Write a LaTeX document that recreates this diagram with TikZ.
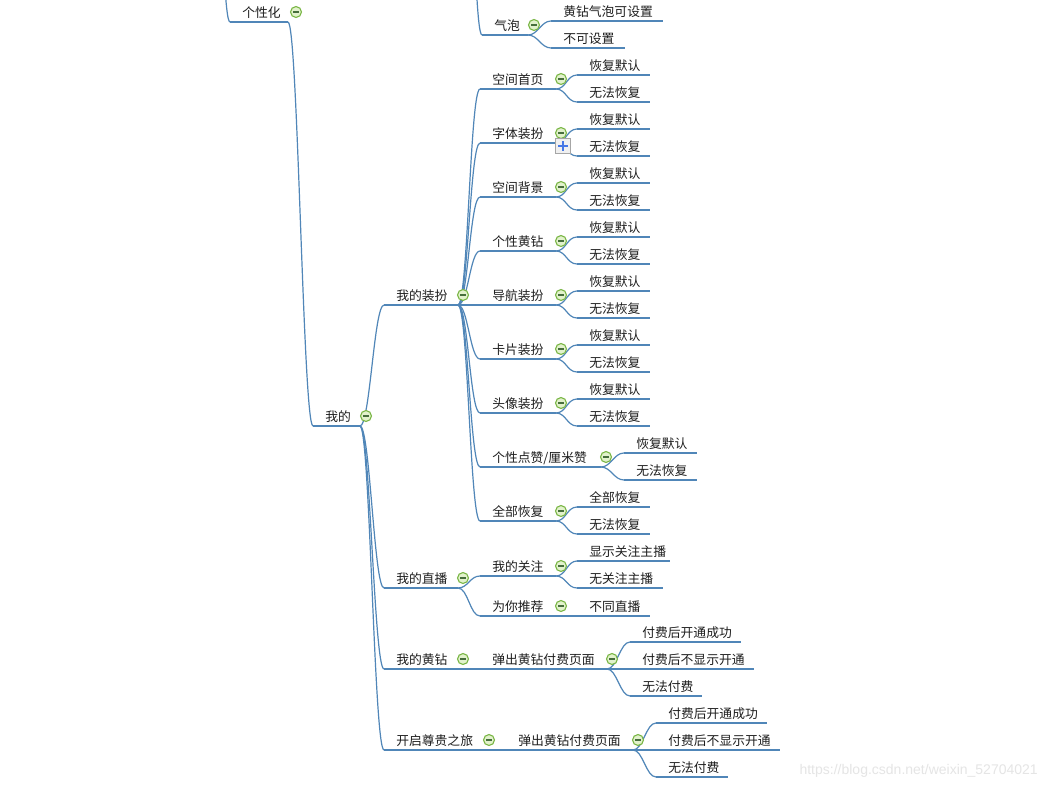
\documentclass[tikz,border=0pt]{standalone}
\usepackage{fontspec}
\newfontfamily\cjk{Noto Sans CJK SC}
\newfontfamily\wmfont{Liberation Sans}
\definecolor{linec}{RGB}{80,134,184}
\definecolor{icgreen}{RGB}{118,180,64}
\definecolor{icfill}{RGB}{226,242,204}
\definecolor{icdark}{RGB}{70,110,60}
\definecolor{pluscol}{RGB}{70,120,230}
\definecolor{txtc}{RGB}{30,30,30}
\tikzset{
  txt/.style={anchor=west, inner sep=0pt, text=txtc, font=\cjk\fontsize{9.6}{11}\selectfont},
  uline/.style={draw=linec, line width=0.9pt},
  conn/.style={draw=linec, line width=0.9pt},
  mini/.style={circle, draw=icgreen, fill=icfill, line width=0.8pt, minimum size=8.2pt, inner sep=0pt,
    path picture={\draw[icdark, line width=0.8pt] ([xshift=-2.2pt]path picture bounding box.center) -- ([xshift=2.2pt]path picture bounding box.center);}},
  plusbox/.style={rectangle, draw=black!35, fill=black!6, line width=0.6pt, minimum size=11pt, inner sep=0pt,
    path picture={\draw[pluscol, line width=2pt] ([xshift=-3.6pt]path picture bounding box.center) -- ([xshift=3.6pt]path picture bounding box.center);
                  \draw[pluscol, line width=2pt] ([yshift=-3.6pt]path picture bounding box.center) -- ([yshift=3.6pt]path picture bounding box.center);}},
  wmark/.style={anchor=east, inner sep=0pt, text=black!10, font=\wmfont\fontsize{10.5}{12}\selectfont}
}
% topic: id, xL, xR, y(text), text
\newcommand\tp[5]{%
  \coordinate (#1-l) at (#2,#4+10);
  \coordinate (#1-r) at (#3,#4+10);
  \node[txt] (#1) at (#2+12,#4+1) {#5};
  \draw[uline] (#1-l) -- (#1-r);
}
\newcommand\cn[2]{\draw[conn] (#1) .. controls +(10,0) and +(-10,0) .. (#2);}
\newcommand\ic[3]{\node[mini] (#1) at (#2,#3) {};}
\begin{document}
\begin{tikzpicture}[x=0.75pt,y=-0.75pt]
\useasboundingbox (0,0) rectangle (1046,789);
\clip (0,0) rectangle (1046,789);
\fill[white] (0,0) rectangle (1046,789);

% off-frame parents
\coordinate (root) at (210,-300);
\coordinate (qppar) at (462,-300);

% topics
\tp{gxh}{230}{288}{12}{个性化}
\tp{qp}{482}{528}{25}{气泡}
\tp{hz}{551}{663}{11}{黄钻气泡可设置}
\tp{bk}{551}{625}{38}{不可设置}

\tp{wd}{313}{360}{416}{我的}
\tp{zb}{384}{458}{295}{我的装扮}

\tp{a1}{480}{556}{79}{空间首页}
\tp{a2}{480}{556}{133}{字体装扮}
\tp{a3}{480}{556}{187}{空间背景}
\tp{a4}{480}{556}{241}{个性黄钻}
\tp{a5}{480}{556}{295}{导航装扮}
\tp{a6}{480}{556}{349}{卡片装扮}
\tp{a7}{480}{556}{403}{头像装扮}
\tp{a8}{480}{601}{457}{个性点赞/厘米赞}
\tp{a9}{480}{556}{511}{全部恢复}

\tp{b1}{577}{650}{65}{恢复默认}
\tp{c1}{577}{650}{92}{无法恢复}
\tp{b2}{577}{650}{119}{恢复默认}
\tp{c2}{577}{650}{146}{无法恢复}
\tp{b3}{577}{650}{173}{恢复默认}
\tp{c3}{577}{650}{200}{无法恢复}
\tp{b4}{577}{650}{227}{恢复默认}
\tp{c4}{577}{650}{254}{无法恢复}
\tp{b5}{577}{650}{281}{恢复默认}
\tp{c5}{577}{650}{308}{无法恢复}
\tp{b6}{577}{650}{335}{恢复默认}
\tp{c6}{577}{650}{362}{无法恢复}
\tp{b7}{577}{650}{389}{恢复默认}
\tp{c7}{577}{650}{416}{无法恢复}
\tp{b8}{624}{697}{443}{恢复默认}
\tp{c8}{624}{697}{470}{无法恢复}
\tp{b9}{577}{650}{497}{全部恢复}
\tp{c9}{577}{650}{524}{无法恢复}

\tp{zb2}{384}{458}{578}{我的直播}
\tp{gz}{480}{556}{566}{我的关注}
\tp{gz1}{577}{670}{551}{显示关注主播}
\tp{gz2}{577}{663}{578}{无关注主播}
\tp{tj}{480}{556}{606}{为你推荐}
\tp{tj1}{577}{650}{606}{不同直播}

\tp{hz0}{384}{458}{659}{我的黄钻}
\tp{fk1}{480}{607}{659}{弹出黄钻付费页面}
\tp{f11}{630}{741}{632}{付费后开通成功}
\tp{f12}{630}{754}{659}{付费后不显示开通}
\tp{f13}{630}{702}{686}{无法付费}

\tp{zg}{384}{484}{740}{开启尊贵之旅}
\tp{fk2}{506}{633}{740}{弹出黄钻付费页面}
\tp{f21}{656}{767}{713}{付费后开通成功}
\tp{f22}{656}{780}{740}{付费后不显示开通}
\tp{f23}{656}{728}{767}{无法付费}

% connectors
\cn{root}{gxh-l}
\cn{gxh-r}{wd-l}
\cn{qppar}{qp-l}
\cn{qp-r}{hz-l}
\cn{qp-r}{bk-l}
\cn{wd-r}{zb-l}
\cn{wd-r}{zb2-l}
\cn{wd-r}{hz0-l}
\cn{wd-r}{zg-l}
\foreach \i in {1,...,9}{
  \cn{zb-r}{a\i-l}
  \cn{a\i-r}{b\i-l}
  \cn{a\i-r}{c\i-l}
}
\cn{zb2-r}{gz-l}
\cn{zb2-r}{tj-l}
\cn{gz-r}{gz1-l}
\cn{gz-r}{gz2-l}
\cn{tj-r}{tj1-l}
\cn{hz0-r}{fk1-l}
\cn{fk1-r}{f11-l}
\cn{fk1-r}{f12-l}
\cn{fk1-r}{f13-l}
\cn{zg-r}{fk2-l}
\cn{fk2-r}{f21-l}
\cn{fk2-r}{f22-l}
\cn{fk2-r}{f23-l}

% collapse icons
\ic{gxh-i}{296}{12}
\ic{qp-i}{534}{25}
\ic{wd-i}{366}{416}
\ic{zb-i}{463}{295}
\ic{a1-i}{561}{79}
\ic{a2-i}{561}{133}
\ic{a3-i}{561}{187}
\ic{a4-i}{561}{241}
\ic{a5-i}{561}{295}
\ic{a6-i}{561}{349}
\ic{a7-i}{561}{403}
\ic{a8-i}{606}{457}
\ic{a9-i}{561}{511}
\ic{zb2-i}{463}{578}
\ic{gz-i}{561}{566}
\ic{tj-i}{561}{606}
\ic{hz0-i}{463}{659}
\ic{fk1-i}{612}{659}
\ic{zg-i}{489}{740}
\ic{fk2-i}{638}{740}

% expand box
\node[plusbox] (plus) at (563,146) {};

% watermark
\node[wmark] (wm) at (1038,771) {https://blog.csdn.net/weixin\_52704021};
\end{tikzpicture}
\end{document}
